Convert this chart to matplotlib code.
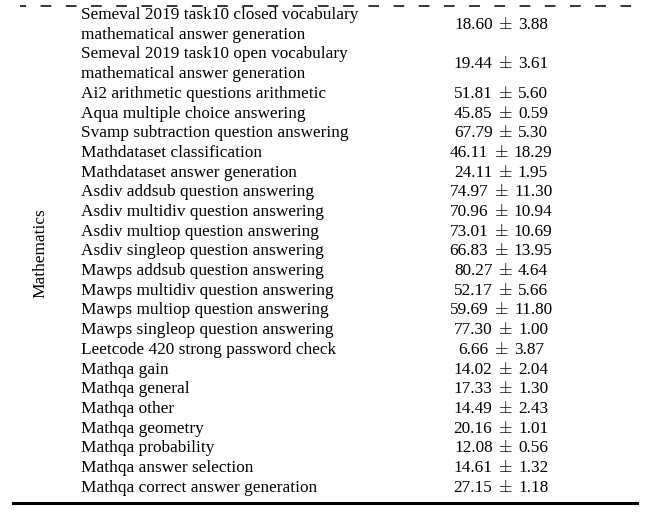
import matplotlib.pyplot as plt
from matplotlib.lines import Line2D

plt.rcParams['font.family'] = ['Liberation Serif', 'DejaVu Serif']

category = 'Mathematics'
tasks = ['Semeval 2019 task10 closed vocabulary\nmathematical answer generation',
         'Semeval 2019 task10 open vocabulary\nmathematical answer generation',
         'Ai2 arithmetic questions arithmetic',
         'Aqua multiple choice answering',
         'Svamp subtraction question answering',
         'Mathdataset classification',
         'Mathdataset answer generation',
         'Asdiv addsub question answering',
         'Asdiv multidiv question answering',
         'Asdiv multiop question answering',
         'Asdiv singleop question answering',
         'Mawps addsub question answering',
         'Mawps multidiv question answering',
         'Mawps multiop question answering',
         'Mawps singleop question answering',
         'Leetcode 420 strong password check',
         'Mathqa gain',
         'Mathqa general',
         'Mathqa other',
         'Mathqa geometry',
         'Mathqa probability',
         'Mathqa answer selection',
         'Mathqa correct answer generation']
means = [18.60, 19.44, 51.81, 45.85, 67.79, 46.11, 24.11, 74.97, 70.96, 73.01,
         66.83, 80.27, 52.17, 59.69, 77.30, 6.66, 14.02, 17.33, 14.49, 20.16,
         12.08, 14.61, 27.15]
stds = [3.88, 3.61, 5.60, 0.59, 5.30, 18.29, 1.95, 11.30, 10.94, 10.69,
        13.95, 4.64, 5.66, 11.80, 1.00, 3.87, 2.04, 1.30, 2.43, 1.01,
        0.56, 1.32, 1.18]

W, H = 655, 515
fig = plt.figure(figsize=(W/100, H/100), dpi=100)
ax = fig.add_axes([0, 0, 1, 1])
ax.set_xlim(0, W)
ax.set_ylim(H, 0)
ax.axis('off')
renderer = fig.canvas.get_renderer()

fs = 12.4
y0 = 15      # eerste tekstregel (pixels)
dy = 19.7    # regelafstand
xc = 501     # midden van de waardekolom
gap = 5.5    # ruimte rond het plusminteken

def breedte(t):
    return t.get_window_extent(renderer).width

k = 0
for t, m, s in zip(tasks, means, stds):
    regels = t.split('\n')
    for j, r in enumerate(regels):
        ax.text(81, y0 + (k + j)*dy, r, ha='left', va='center', fontsize=fs)
    ymid = y0 + (k + (len(regels) - 1)/2)*dy
    # gemiddelde, plusminteken en std als losse teksten, samen gecentreerd
    t1 = ax.text(0, ymid, '{:.2f}'.format(m), ha='left', va='center', fontsize=fs)
    t2 = ax.text(0, ymid, '$\\pm$', ha='left', va='center', fontsize=fs,
                 math_fontfamily='cm')
    t3 = ax.text(0, ymid, '{:.2f}'.format(s), ha='left', va='center', fontsize=fs)
    w1, w2, w3 = breedte(t1), breedte(t2), breedte(t3)
    x = xc - (w1 + w2 + w3 + 2*gap)/2
    t1.set_x(x)
    t2.set_x(x + w1 + gap)
    t3.set_x(x + w1 + w2 + 2*gap)
    k += len(regels)

ax.text(40, 253, category, rotation=90, ha='center', va='center', fontsize=fs)

ax.add_line(Line2D([20, 640], [6, 6], color='black', lw=1.1, ls=(3, (7, 9.5))))
ax.add_line(Line2D([13, 637], [503, 503], color='black', lw=2.2))

plt.savefig('out.png', dpi=100)
